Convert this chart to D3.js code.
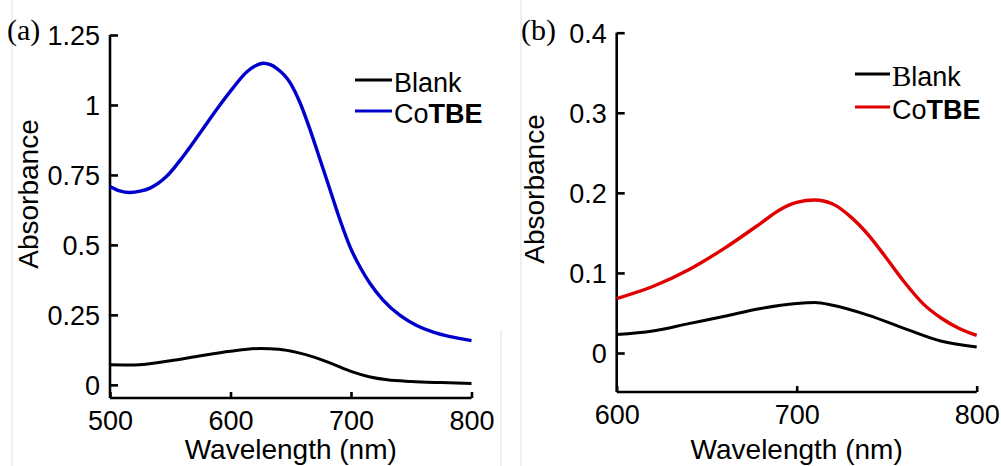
<!DOCTYPE html>
<html>
<head>
<meta charset="utf-8">
<script src="https://cdn.jsdelivr.net/npm/d3@7"></script>
<style>
  html, body { margin: 0; padding: 0; background: #fff; }
  svg { display: block; }
  text { font-family: "Liberation Sans", Arial, sans-serif; fill: #000; }
</style>
</head>
<body>
<svg id="chart" width="1001" height="466"></svg>
<script>
// ---------- Panel (a) data ----------
const aWavelength = [500, 508, 516.6, 525, 533.2, 547, 560.8, 574.7, 588.5, 602.3, 613.4, 620, 627.2, 633, 638.3, 649.4, 657.7, 666, 674.3, 682.6, 690.9, 699.2, 707.5, 715.8, 726.8, 740.7, 754.5, 768.3, 782.2, 800];
const aCoTBE      = [0.709, 0.693, 0.687, 0.692, 0.703, 0.745, 0.817, 0.900, 0.984, 1.062, 1.118, 1.138, 1.149, 1.144, 1.131, 1.080, 1.008, 0.912, 0.805, 0.697, 0.589, 0.493, 0.421, 0.362, 0.302, 0.248, 0.212, 0.188, 0.172, 0.158];
const aBlankWl    = [500, 520, 550, 575, 600, 625, 640, 655, 670, 685, 700, 715, 730, 750, 775, 800];
const aBlank      = [0.072, 0.071, 0.086, 0.104, 0.12, 0.13, 0.127, 0.116, 0.098, 0.074, 0.048, 0.029, 0.018, 0.012, 0.008, 0.005];
const aXTicks = [500, 600, 700, 800];
const aYTicks = [0, 0.25, 0.5, 0.75, 1, 1.25];
const aYTickLabels = ["0", "0.25", "0.5", "0.75", "1", "1.25"];

// ---------- Panel (b) data ----------
const bWavelength = [600, 620, 640, 660, 680, 690, 700, 710, 720, 730, 740, 750, 760, 770, 780, 790, 800];
const bCoTBE      = [0.068, 0.083, 0.104, 0.131, 0.162, 0.178, 0.188, 0.191, 0.186, 0.170, 0.147, 0.118, 0.088, 0.062, 0.044, 0.031, 0.022];
const bBlankWl    = [600, 620, 640, 660, 680, 700, 710, 720, 740, 760, 780, 800];
const bBlank      = [0.023, 0.0275, 0.0367, 0.0459, 0.0555, 0.0617, 0.063, 0.0596, 0.047, 0.0305, 0.015, 0.0075];
const bXTicks = [600, 700, 800];
const bYTicks = [0, 0.1, 0.2, 0.3, 0.4];
const bYTickLabels = ["0", "0.1", "0.2", "0.3", "0.4"];

const seriesNames = ["Blank", "CoTBE"];

const svg = d3.select("#chart");

// faint image borders
[[12, 0, 466], [501, 330, 466], [521, 0, 466]].forEach(([x, y0, y1]) => {
  svg.append("line").attr("x1", x).attr("x2", x).attr("y1", y0).attr("y2", y1)
    .attr("stroke", "#e2e2e2").attr("stroke-width", 1);
});

function panel(cfg) {
  const x = d3.scaleLinear().domain(cfg.xDomain).range([cfg.left, cfg.right]);
  const y = d3.scaleLinear().domain(cfg.yDomain).range([cfg.bottom, cfg.top]);
  const g = svg.append("g");

  const line = d3.line().curve(d3.curveMonotoneX)
    .x(d => x(d[0])).y(d => y(d[1]));

  // y axis
  const yAxis = d3.axisLeft(y).tickValues(cfg.yTicks)
    .tickSize(-cfg.yTickLen).tickPadding(0).tickFormat((d, i) => cfg.yTickLabels[i]);
  const ya = g.append("g").attr("transform", `translate(${cfg.left},0)`).call(yAxis);
  ya.select(".domain").attr("d", `M0,${cfg.top}V${cfg.bottom}`);
  ya.selectAll("path, line").attr("stroke", "#000").attr("stroke-width", 2.6);
  ya.selectAll("text").attr("x", -cfg.yLabelGap).attr("dy", "0.35em")
    .style("font-size", cfg.tickFont + "px").attr("fill", "#000");

  // x axis
  const xAxis = d3.axisBottom(x).tickValues(cfg.xTicks)
    .tickSize(-cfg.xTickLen).tickPadding(0).tickFormat(d3.format("d"));
  const xa = g.append("g").attr("transform", `translate(0,${cfg.bottom})`).call(xAxis);
  xa.select(".domain").attr("d", `M${cfg.left},0H${cfg.right}`);
  xa.selectAll("path, line").attr("stroke", "#000").attr("stroke-width", 2.6);
  xa.selectAll("text").attr("y", cfg.xLabelY).attr("dy", 0)
    .style("font-size", cfg.tickFont + "px").attr("fill", "#000");

  // data lines
  g.append("path").datum(d3.zip(cfg.blankX, cfg.blankY))
    .attr("d", line).attr("fill", "none").attr("stroke", "#000").attr("stroke-width", 3);
  g.append("path").datum(d3.zip(cfg.coX, cfg.coY))
    .attr("d", line).attr("fill", "none").attr("stroke", cfg.color).attr("stroke-width", 3.4);

  // axis titles
  g.append("text").attr("x", (cfg.left + cfg.right) / 2).attr("y", 459)
    .attr("text-anchor", "middle").style("font-size", "28px").text("Wavelength (nm)");
  g.append("text").attr("transform", `translate(${cfg.yTitleX},${cfg.yTitleY}) rotate(-90)`)
    .attr("text-anchor", "middle").style("font-size", "28px").text("Absorbance");

  // panel label
  g.append("text").attr("x", cfg.labelX).attr("y", 40)
    .style("font-family", "'Liberation Serif', 'Times New Roman', serif").style("font-size", "30px")
    .text(cfg.label);

  // legend
  const colors = ["#000", cfg.color];
  seriesNames.forEach((name, i) => {
    const ly = cfg.legY[i];
    g.append("line").attr("x1", cfg.legX0).attr("x2", cfg.legX1).attr("y1", ly).attr("y2", ly)
      .attr("stroke", colors[i]).attr("stroke-width", 3);
    const t = g.append("text").attr("x", cfg.legX1 + 2).attr("y", ly + 12)
      .style("font-size", "27px").attr("fill", colors[i]);
    if (name === "CoTBE") {
      t.append("tspan").text("Co");
      t.append("tspan").style("font-weight", "bold").text("TBE");
    } else if (cfg.serifB) {
      t.append("tspan").style("font-family", "'Liberation Serif', serif").style("font-size", "29px").text("B");
      t.append("tspan").text("lank");
    } else {
      t.text(name);
    }
  });
}

panel({
  xDomain: [500, 800], yDomain: [-0.047, 1.25],
  left: 110, right: 471.5, top: 35, bottom: 398,
  xTicks: aXTicks, yTicks: aYTicks, yTickLabels: aYTickLabels,
  yTickLen: 8, xTickLen: 6, yLabelGap: 10, xLabelY: 32, tickFont: 27,
  blankX: aBlankWl, blankY: aBlank, coX: aWavelength, coY: aCoTBE,
  color: "#0000cc", yTitleX: 38, yTitleY: 194, label: "(a)", labelX: 7,
  legX0: 355, legX1: 392, legY: [80, 111], serifB: false
});

panel({
  xDomain: [600, 800], yDomain: [-0.0487, 0.4],
  left: 616.7, right: 976.7, top: 32.7, bottom: 392,
  xTicks: bXTicks, yTicks: bYTicks, yTickLabels: bYTickLabels,
  yTickLen: 8, xTickLen: 6, yLabelGap: 10, xLabelY: 32, tickFont: 27,
  blankX: bBlankWl, blankY: bBlank, coX: bWavelength, coY: bCoTBE,
  color: "#e00000", yTitleX: 544, yTitleY: 189, label: "(b)", labelX: 521,
  legX0: 855, legX1: 890, legY: [74, 107], serifB: true
});
</script>
</body>
</html>
